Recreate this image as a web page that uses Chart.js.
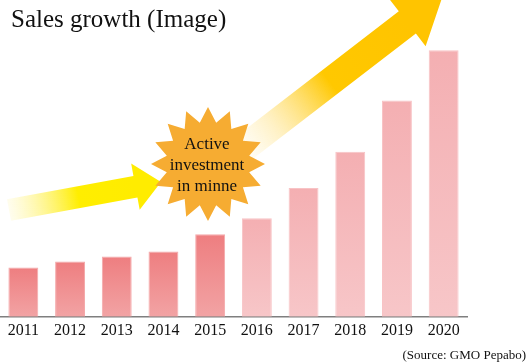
<!DOCTYPE html>
<html>
<head>
<meta charset="utf-8">
<script src="https://cdn.jsdelivr.net/npm/chart.js@4.4.1/dist/chart.umd.min.js"></script>
<style>
  html, body { margin: 0; padding: 0; background: #fff; }
  #wrap { width: 527px; height: 362px; position: relative; }
</style>
</head>
<body>
<div id="wrap"><canvas id="chart" width="527" height="362"></canvas></div>
<script>
  "use strict";

  // data (relative sales, no unit in the source picture)
  const years = ["2011", "2012", "2013", "2014", "2015", "2016", "2017", "2018", "2019", "2020"];
  const sales = [49, 55, 60, 65, 82, 98, 128, 164, 215, 265];
  const phase = ["before", "before", "before", "before", "before", "after", "after", "after", "after", "after"];
  const yRange = [0, 315];

  const titleText = "Sales growth (Image)";
  const sourceText = "(Source: GMO Pepabo)";
  const starLines = ["Active", "investment", "in minne"];

  const SERIF = '"Liberation Serif", "Times New Roman", serif';

  const barColors = {
    before: { top: "#EE7E80", bottom: "#F2A3A4", border: "#F4A9AA" },
    after: { top: "#F4AFB2", bottom: "#F7C6C8", border: "#F8C3C5" }
  };

  function barFill(ctx) {
    const chart = ctx.chart;
    const c = barColors[phase[ctx.dataIndex]] || barColors.before;
    const yScale = chart.scales.y;
    if (!yScale || !chart.chartArea) return c.top;
    const top = yScale.getPixelForValue(sales[ctx.dataIndex]);
    const bottom = yScale.getPixelForValue(0);
    const g = chart.ctx.createLinearGradient(0, top, 0, bottom);
    g.addColorStop(0, c.top);
    g.addColorStop(1, c.bottom);
    return g;
  }

  function drawArrow(ctx, from, tip, shaftW, headW, headL, stops) {
    const dx = tip[0] - from[0];
    const dy = tip[1] - from[1];
    const len = Math.hypot(dx, dy);
    const ux = dx / len, uy = dy / len;
    const nx = -uy, ny = ux;
    const bx = tip[0] - ux * headL, by = tip[1] - uy * headL;
    const s = shaftW / 2, h = headW / 2;

    const g = ctx.createLinearGradient(from[0], from[1], bx, by);
    stops.forEach(([o, col]) => g.addColorStop(o, col));

    ctx.beginPath();
    ctx.moveTo(from[0] + nx * s, from[1] + ny * s);
    ctx.lineTo(bx + nx * s, by + ny * s);
    ctx.lineTo(bx + nx * h, by + ny * h);
    ctx.lineTo(tip[0], tip[1]);
    ctx.lineTo(bx - nx * h, by - ny * h);
    ctx.lineTo(bx - nx * s, by - ny * s);
    ctx.lineTo(from[0] - nx * s, from[1] - ny * s);
    ctx.closePath();
    ctx.fillStyle = g;
    ctx.fill();
  }

  function drawStar(ctx, cx, cy, outer, inner, points, color) {
    ctx.beginPath();
    for (let i = 0; i < points * 2; i++) {
      const r = i % 2 === 0 ? outer : inner;
      const a = -Math.PI / 2 + (i * Math.PI) / points;
      const x = cx + Math.cos(a) * r;
      const y = cy + Math.sin(a) * r;
      if (i === 0) ctx.moveTo(x, y);
      else ctx.lineTo(x, y);
    }
    ctx.closePath();
    ctx.fillStyle = color;
    ctx.fill();
  }

  const decorations = {
    id: "decorations",
    afterDatasetsDraw(chart) {
      const ctx = chart.ctx;
      ctx.save();

      drawArrow(ctx, [9, 210], [161, 182], 22, 47, 26, [
        [0, "rgba(255, 242, 140, 0.15)"],
        [0.55, "#FFEE00"],
        [1, "#FFEC00"]
      ]);

      drawArrow(ctx, [235, 155], [443, -5], 28, 60, 45, [
        [0, "rgba(255, 235, 170, 0)"],
        [0.22, "rgba(255, 225, 130, 0.45)"],
        [0.55, "#FFC800"],
        [1, "#FFC400"]
      ]);

      drawStar(ctx, 208, 164, 57, 42, 16, "#F6AC32");

      ctx.fillStyle = "#111";
      ctx.font = "17px " + SERIF;
      ctx.textAlign = "center";
      ctx.textBaseline = "middle";
      starLines.forEach((line, i) => ctx.fillText(line, 207, 145 + i * 21));

      ctx.restore();
    },
    afterDraw(chart) {
      const ctx = chart.ctx;
      ctx.save();
      ctx.fillStyle = "#111";
      ctx.textBaseline = "alphabetic";

      ctx.font = "25px " + SERIF;
      ctx.textAlign = "left";
      ctx.fillText(titleText, 11, 27);

      ctx.font = "13px " + SERIF;
      ctx.textAlign = "right";
      ctx.fillText(sourceText, 526, 359);
      ctx.restore();
    }
  };

  new Chart(document.getElementById("chart"), {
    type: "bar",
    data: {
      labels: years,
      datasets: [
        {
          data: sales,
          backgroundColor: barFill,
          borderColor: ctx => (barColors[phase[ctx.dataIndex]] || barColors.before).border,
          borderWidth: 1,
          borderSkipped: "bottom",
          categoryPercentage: 1,
          barPercentage: 0.64
        }
      ]
    },
    options: {
      responsive: false,
      animation: false,
      layout: { padding: { left: 0, right: 60, top: 0, bottom: 18 } },
      plugins: {
        legend: { display: false },
        tooltip: { enabled: false },
        title: { display: false }
      },
      scales: {
        x: {
          grid: { display: false, drawTicks: false, tickLength: 0 },
          border: { display: true, color: "#7f7f7f", width: 1.5 },
          ticks: {
            color: "#111",
            padding: 4,
            maxRotation: 0,
            autoSkip: false,
            font: { family: SERIF, size: 16 }
          }
        },
        y: {
          display: false,
          min: yRange[0],
          max: yRange[1]
        }
      }
    },
    plugins: [decorations]
  });
</script>
</body>
</html>
